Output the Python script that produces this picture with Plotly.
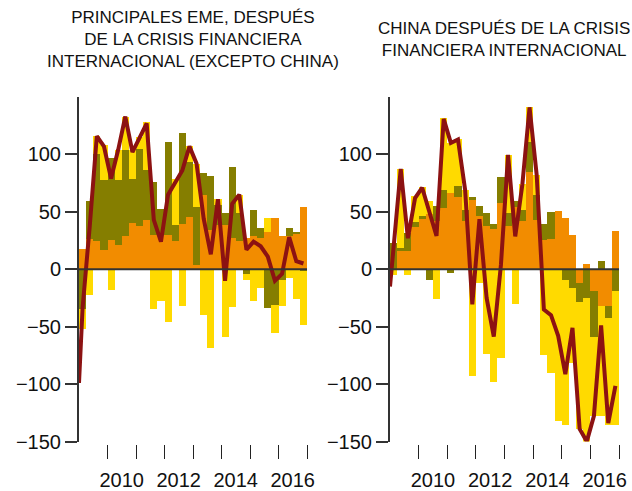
import plotly.graph_objects as go

# Quarterly periods: bars start 2009Q1; the net line opens at the start of 2009
quarters = [2009 + (i + 0.5) / 4 for i in range(32)]
line_quarters = [2009.0] + quarters

# Panel 1: main EMEs excluding China
eme_orange = [18, 26.6, 24.3, 17.1, 25.8, 20.8, 29.3, 40.3, 37.9, 42.5, 29.5, 29.5,
              29.5, 24.3, 39.7, 45.1, 4, 64.8, 34.5, 38.8, 38.8, 27, 24.3, 27.2,
              28.6, 27.5, 32.7, 44.9, 28.6, 28.6, 30.4, 53.8]
eme_olive = [-35, 33, 76.1, 60.8, 71.2, 56.5, 74.6, 38.4, 66.9, 44, 46.9, 23.2,
             81.5, 14.5, 78.7, 48.7, 50, 19.1, 46.8, 17.4, 10.2, 62.4, 24.7, -4.4,
             23.2, 8.7, -34, -31.5, -9.5, 7.6, 2.3, -1.5]
eme_yellow = [-17.3, -22.6, 15.9, 30.3, -18.2, 26.6, 28.9, 25.2, 10.2, 42, -35, -27.8,
              -46, 39.9, -32, 13.6, 38, -40, -69, 5.2, -59, -32.6, 15.8, -5.1,
              -27.8, -16.7, 12.2, -24, -22.5, -8, -26.3, -47.4]
eme_net = [-99, -34, 37, 116, 107, 79, 104, 133, 102, 115, 127, 43, 24, 65, 76, 86,
           107, 92, 44, 13, 61, -10, 57, 65, 17, 24, 20, 11, -10, -4, 28, 7, 5]

# Panel 2: China
chn_orange = [0, 15.6, 16.2, 36.5, 44, 48.4, 41.7, 53.3, 66.8, 62.5, 41.7, 61.1,
              46, 37.9, 35.3, 57.6, 37.9, 53.8, 41.7, 85, 42.5, 25.8, 26.4, 51,
              44.6, 30.1, -11.8, 5, -19.1, -32, -32, 33.6]
chn_olive = [22.9, 3, 15.4, 4.6, 2.6, -9.5, 13.6, 15.9, -3, 10.2, 10.1, 1.5,
             9.3, 11.1, 4.4, 23.1, 11.1, 5.8, 10.1, 26, 22.3, 13.9, 23.4, 0,
             -9, -16.2, -16.5, -25.4, -39.9, 7.5, -10.2, -19]
chn_yellow = [-5.2, 68.8, -4.6, 22.3, 25.4, 11.2, -26.3, 62.2, 42.9, 40.5, 17.4, -92.9,
              -11.8, -74, -98.6, -77, 50.6, -30, 22.6, 30, 17.4, -74.9, -90.5, -132,
              -127, -65.1, -110.7, -125.3, -68.6, -95.6, -93.2, -116.4]
chn_net = [-15, 17.7, 87.4, 27, 62, 71, 50, 29, 131, 110, 113, 69, -30.5, 43.7, -25,
           -58.7, 3.7, 99.6, 28.6, 74, 141, 82, -35, -40, -58, -91.4, -51, -139, -150,
           -127.6, -49, -134, -101.6]

year_ticks = list(range(2010, 2018))
label_pos = [2010.5, 2012.5, 2014.5, 2016.5]
label_txt = ["2010", "2012", "2014", "2016"]
y_vals = [-150, -100, -50, 0, 50, 100]
y_txt = ["\u2212150", "\u2212100", "\u221250", "0", "50", "100"]

ORANGE = "#F28C00"
OLIVE = "#857E00"
YELLOW = "#FFDA00"
NET = "#8C1212"
AXIS = "#333333"
FONT = "Liberation Sans, Arial"

W, H = 632, 491
fig = go.Figure()

panels = [
    ("x", "y", eme_orange, eme_olive, eme_yellow, eme_net),
    ("x2", "y2", chn_orange, chn_olive, chn_yellow, chn_net),
]
for xa, ya, o, ol, ye, net in panels:
    for vals, col in ((o, ORANGE), (ol, OLIVE), (ye, YELLOW)):
        fig.add_trace(go.Bar(x=quarters, y=vals, xaxis=xa, yaxis=ya, width=0.25,
                             marker=dict(color=col, line=dict(width=0))))
    fig.add_trace(go.Scatter(x=line_quarters, y=net, xaxis=xa, yaxis=ya, mode="lines",
                             line=dict(color=NET, width=4)))

y_dom = [(H - 441.5) / H, (H - 97) / H]
x_doms = [[79 / W, 307 / W], [390 / W, 619 / W]]
tick_pos = (H - 444) / H

def xaxis_cfg(dom):
    return dict(domain=dom, range=[2009, 2017], anchor="free", position=tick_pos,
                automargin=False,
                showline=False, showgrid=False, zeroline=False,
                tickmode="array", tickvals=label_pos, ticktext=label_txt, ticks="",
                ticklabelstandoff=22,
                tickfont=dict(family=FONT, size=20, color="#111"),
                minor=dict(tickmode="array", tickvals=year_ticks, ticks="outside",
                           ticklen=14, tickwidth=1, tickcolor="#222", showgrid=False))

def yaxis_cfg(anchor):
    return dict(domain=y_dom, range=[-150, 150], anchor=anchor, automargin=False,
                tickmode="array", tickvals=y_vals, ticktext=y_txt,
                ticks="outside", ticklen=12, tickwidth=2, tickcolor=AXIS,
                showline=True, linecolor=AXIS, linewidth=2,
                showgrid=False, zeroline=False,
                tickfont=dict(family=FONT, size=20, color="#111"))

fig.update_layout(
    width=W, height=H, margin=dict(l=0, r=0, t=0, b=0, autoexpand=False),
    plot_bgcolor="white", paper_bgcolor="white",
    barmode="relative", bargap=0, showlegend=False,
    xaxis=xaxis_cfg(x_doms[0]), xaxis2=xaxis_cfg(x_doms[1]),
    yaxis=yaxis_cfg("x"), yaxis2=yaxis_cfg("x2"),
)

# zero reference line drawn over the bars
for xr, yr in (("x domain", "y"), ("x2 domain", "y2")):
    fig.add_shape(type="line", xref=xr, yref=yr, x0=0, x1=1, y0=0, y1=0,
                  line=dict(color=AXIS, width=2), layer="above")

titles = [
    "PRINCIPALES EME, DESPUÉS<br>DE LA CRISIS FINANCIERA<br>INTERNACIONAL (EXCEPTO CHINA)",
    "CHINA DESPUÉS DE LA CRISIS<br>FINANCIERA INTERNACIONAL",
]
for dom, txt in zip(x_doms, titles):
    fig.add_annotation(text=txt, xref="paper", yref="paper",
                       x=(dom[0] + dom[1]) / 2, y=(H - 40) / H,
                       xanchor="center", yanchor="middle", showarrow=False,
                       font=dict(family=FONT, size=17, color="#111"))

fig.write_html("out.html")
